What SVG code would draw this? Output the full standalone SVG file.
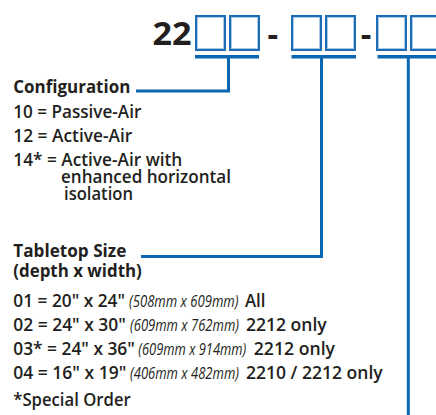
<svg xmlns="http://www.w3.org/2000/svg" width="436" height="415" viewBox="0 0 436 415">
<style>
  .t { font-family: "Open Sans", "Noto Sans", "Liberation Sans", sans-serif; fill: #231f20; font-size: 17.5px; font-weight: 600; }
  .b { font-weight: 700; }
  .it { font-family: "Open Sans", "Noto Sans", "Liberation Sans", sans-serif; fill: #231f20; font-size: 16.5px; font-style: italic; font-weight: 400; }
  .big { font-family: "Open Sans", "Noto Sans", "Liberation Sans", sans-serif; fill: #231f20; font-size: 33px; font-weight: 700; }
  .box { fill: #ffffff; stroke: #1c6db6; stroke-width: 2; }
  .inner { fill: none; stroke: #a9c9e8; stroke-width: 1; }
  .bar { fill: none; stroke: #0b67b2; stroke-width: 3.4; }
  .con { fill: none; stroke: #0b67b2; stroke-width: 3; }
</style>
<rect width="436" height="415" fill="#ffffff"/>

<g id="code">
  <text class="big" x="152.5" y="45" textLength="39" lengthAdjust="spacingAndGlyphs">22</text>
  <text class="big" x="272.7" y="46" text-anchor="middle">-</text>
  <text class="big" x="366" y="46" text-anchor="middle">-</text>
</g>

<g id="box-config">
  <rect class="box" x="196" y="16" width="29" height="34"/>
  <rect class="inner" x="197.5" y="17.5" width="26" height="31"/>
  <rect class="box" x="230" y="16" width="29" height="34"/>
  <rect class="inner" x="231.5" y="17.5" width="26" height="31"/>
</g>
<g id="box-size">
  <rect class="box" x="292" y="16" width="29" height="34"/>
  <rect class="inner" x="293.5" y="17.5" width="26" height="31"/>
  <rect class="box" x="326" y="16" width="29" height="34"/>
  <rect class="inner" x="327.5" y="17.5" width="26" height="31"/>
</g>
<g id="box-third">
  <rect class="box" x="377" y="16" width="29" height="34"/>
  <rect class="inner" x="378.5" y="17.5" width="26" height="31"/>
  <rect class="box" x="411" y="16" width="29" height="34"/>
  <rect class="inner" x="412.5" y="17.5" width="26" height="31"/>
</g>

<g id="connectors">
  <line class="bar" x1="195" y1="56.8" x2="259" y2="56.8"/>
  <line class="bar" x1="291.5" y1="56.8" x2="356" y2="56.8"/>
  <line class="bar" x1="377.5" y1="56.8" x2="436" y2="56.8"/>
  <path class="con" d="M228.5 58 V91 H136"/>
  <path class="con" d="M321.5 58 V256.5 H141"/>
  <path class="con" d="M408.3 58 V415"/>
</g>

<g id="configuration">
  <text class="t b" x="13.3" y="93" textLength="117" lengthAdjust="spacingAndGlyphs">Configuration</text>
  <text class="t" x="13.3" y="117.5" textLength="128" lengthAdjust="spacingAndGlyphs">10 = Passive-Air</text>
  <text class="t" x="13.3" y="142" textLength="119" lengthAdjust="spacingAndGlyphs">12 = Active-Air</text>
  <text class="t" x="13.3" y="166" textLength="169" lengthAdjust="spacingAndGlyphs">14* = Active-Air with</text>
  <text class="t" x="61" y="183" textLength="170" lengthAdjust="spacingAndGlyphs">enhanced horizontal</text>
  <text class="t" x="64" y="199.5" textLength="69" lengthAdjust="spacingAndGlyphs">isolation</text>
</g>

<g id="tabletop">
  <text class="t b" x="13.3" y="257" textLength="113" lengthAdjust="spacingAndGlyphs">Tabletop Size</text>
  <text class="t b" x="13.3" y="276.5" textLength="128.5" lengthAdjust="spacingAndGlyphs">(depth x width)</text>

  <text class="t" x="13.3" y="306.5" textLength="111.7" lengthAdjust="spacingAndGlyphs">01 = 20" x 24"</text>
  <text class="it" x="129" y="306.5" textLength="109.5" lengthAdjust="spacingAndGlyphs">(508mm x 609mm)</text>
  <text class="t" x="245" y="306.5" textLength="20.5" lengthAdjust="spacingAndGlyphs">All</text>

  <text class="t" x="13.3" y="330.5" textLength="112.5" lengthAdjust="spacingAndGlyphs">02 = 24" x 30"</text>
  <text class="it" x="130" y="330.5" textLength="109" lengthAdjust="spacingAndGlyphs">(609mm x 762mm)</text>
  <text class="t" x="246" y="330.5" textLength="80.7" lengthAdjust="spacingAndGlyphs">2212 only</text>

  <text class="t" x="13.3" y="354.5" textLength="121.5" lengthAdjust="spacingAndGlyphs">03* = 24" x 36"</text>
  <text class="it" x="138.3" y="354.5" textLength="108" lengthAdjust="spacingAndGlyphs">(609mm x 914mm)</text>
  <text class="t" x="253.8" y="354.5" textLength="81.2" lengthAdjust="spacingAndGlyphs">2212 only</text>

  <text class="t" x="13.3" y="378.5" textLength="113" lengthAdjust="spacingAndGlyphs">04 = 16" x 19"</text>
  <text class="it" x="130" y="378.5" textLength="109" lengthAdjust="spacingAndGlyphs">(406mm x 482mm)</text>
  <text class="t" x="246" y="378.5" textLength="136.7" lengthAdjust="spacingAndGlyphs">2210 / 2212 only</text>
</g>

<g id="footnote">
  <text class="t" x="13.3" y="406" textLength="117.4" lengthAdjust="spacingAndGlyphs">*Special Order</text>
</g>
</svg>
